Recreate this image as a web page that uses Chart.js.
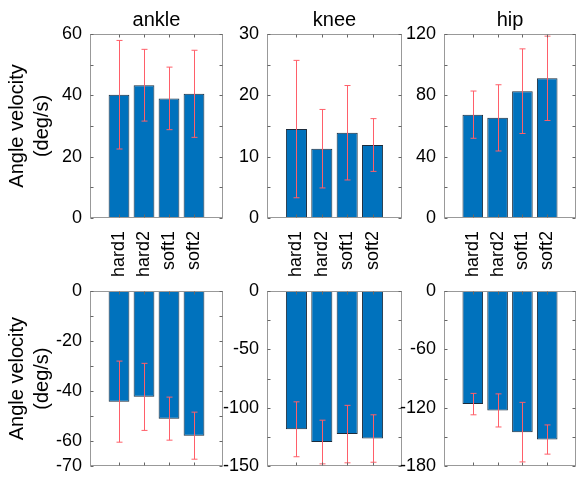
<!DOCTYPE html>
<html>
<head>
<meta charset="utf-8">
<script src="https://cdn.jsdelivr.net/npm/chart.js@4"></script>
<style>
  html, body { margin: 0; padding: 0; background: #fff; }
  #wrap { position: relative; width: 577px; height: 485px; }
  canvas { position: absolute; left: 0; top: 0; }
</style>
</head>
<body>
<div id="wrap">
  <canvas id="c0" width="577" height="485"></canvas>
  <canvas id="c1" width="577" height="485"></canvas>
  <canvas id="c2" width="577" height="485"></canvas>
  <canvas id="c3" width="577" height="485"></canvas>
  <canvas id="c4" width="577" height="485"></canvas>
  <canvas id="c5" width="577" height="485"></canvas>
</div>
<script>
// data
const trials = ['hard1', 'hard2', 'soft1', 'soft2'];
const joints = ['ankle', 'knee', 'hip'];
const yLabel = ['Angle velocity', '(deg/s)'];

const ankleUp = [40.2, 43.3, 39.0, 40.5];
const ankleUpErr = [17.7, 11.7, 10.2, 14.2];
const kneeUp = [14.5, 11.3, 13.9, 11.9];
const kneeUpErr = [11.2, 6.4, 7.7, 4.3];
const hipUp = [67.4, 65.3, 82.7, 91.1];
const hipUpErr = [15.4, 21.6, 27.6, 27.5];

const ankleDown = [-44.2, -42.3, -51.0, -57.8];
const ankleDownErr = [16.2, 13.4, 8.6, 9.4];
const kneeDown = [-118.4, -129.3, -122.5, -126.3];
const kneeDownErr = [23.5, 18.7, 24.6, 20.3];
const hipDown = [-116.2, -122.7, -145.0, -152.6];
const hipDownErr = [11.0, 17.0, 30.6, 15.0];

// labelled y ticks, and the step of the tick marks
const ankleUpTicks = [0, 20, 40, 60];
const kneeUpTicks = [0, 10, 20, 30];
const hipUpTicks = [0, 40, 80, 120];
const ankleDownTicks = [0, -20, -40, -60, -70];
const kneeDownTicks = [0, -50, -100, -150];
const hipDownTicks = [0, -60, -120, -180];
const upSteps = [10, 5, 20];
const downSteps = [10, 25, 30];

Chart.defaults.font.family = '"Liberation Sans", Arial, sans-serif';
Chart.defaults.color = '#000';

const W = 577, H = 485;
const cols = [[90, 223], [267, 402], [444, 576]];
const rows = [[34, 218], [291, 474]];

const errorBars = {
  id: 'errorBars',
  afterDatasetsDraw(chart, args, opts) {
    const { ctx } = chart;
    const y = chart.scales.y;
    const meta = chart.getDatasetMeta(0);
    const vals = chart.data.datasets[0].data;
    ctx.save();
    ctx.strokeStyle = 'rgb(255,95,105)';
    ctx.lineWidth = 1;
    ctx.beginPath();
    meta.data.forEach((bar, i) => {
      const v = vals[i].y, e = opts.err[i];
      const px = Math.round(bar.x) + 0.5;
      const y1 = y.getPixelForValue(v + e), y2 = y.getPixelForValue(v - e);
      ctx.moveTo(px, y1); ctx.lineTo(px, y2);
      ctx.moveTo(px - 3, y1); ctx.lineTo(px + 3, y1);
      ctx.moveTo(px - 3, y2); ctx.lineTo(px + 3, y2);
    });
    ctx.stroke();
    ctx.restore();
  }
};

const boxAxes = {
  id: 'boxAxes',
  afterDraw(chart) {
    const { ctx, chartArea: a } = chart;
    const { x, y } = chart.scales;
    const L = Math.round(a.left) + 0.5, R = Math.round(a.right) - 0.5;
    const T = Math.round(a.top) + 0.5, B = Math.round(a.bottom) - 0.5;
    ctx.save();
    ctx.strokeStyle = '#999';
    ctx.lineWidth = 1;
    ctx.strokeRect(L, T, R - L, B - T);
    ctx.strokeStyle = '#666';
    ctx.beginPath();
    y.ticks.forEach(t => {
      const py = Math.round(y.getPixelForValue(t.value)) + 0.5;
      ctx.moveTo(L, py); ctx.lineTo(L + 3, py);
      ctx.moveTo(R, py); ctx.lineTo(R - 3, py);
    });
    x.ticks.forEach(t => {
      const px = Math.round(x.getPixelForValue(t.value)) + 0.5;
      ctx.moveTo(px, T); ctx.lineTo(px, T + 3);
      ctx.moveTo(px, B); ctx.lineTo(px, B - 3);
    });
    ctx.stroke();
    ctx.restore();
  }
};

function panel(id, col, row, values, errs, ticks, step) {
  const [left, right] = cols[col];
  const [top, bottom] = rows[row];
  const lo = Math.min(...ticks), hi = Math.max(...ticks);
  new Chart(document.getElementById(id), {
    type: 'bar',
    data: {
      datasets: [{
        data: trials.map((t, i) => ({ x: i + 1, y: values[i] })),
        backgroundColor: '#0072BD',
        borderColor: '#1c2c3c',
        borderWidth: 1,
        borderSkipped: false,
        barPercentage: 0.83,
        categoryPercentage: 1
      }]
    },
    options: {
      responsive: false,
      animation: false,
      events: [],
      layout: {
        padding: { left: 0, right: W - right, top: row === 0 ? 0 : top, bottom: 0 }
      },
      scales: {
        x: {
          type: 'linear',
          offset: false,
          min: -0.16,
          max: 5.16,
          grid: { display: false, drawTicks: false, offset: false },
          border: { display: false },
          afterBuildTicks: s => { s.ticks = trials.map((t, i) => ({ value: i + 1 })); },
          afterFit: s => { s.height = H - bottom; s.paddingLeft = 0; s.paddingRight = 0; },
          ticks: {
            display: row === 0,
            autoSkip: false,
            minRotation: 90,
            maxRotation: 90,
            padding: 13,
            font: { size: 18 },
            callback: v => trials[v - 1]
          }
        },
        y: {
          min: lo,
          max: hi,
          grid: { display: false, drawTicks: false },
          border: { display: false },
          afterFit: s => { s.width = left; },
          title: {
            display: col === 0,
            text: yLabel,
            font: { size: 20, lineHeight: 1.27 },
            padding: { top: 4.8, bottom: 0 }
          },
          ticks: {
            stepSize: step,
            autoSkip: false,
            padding: 8,
            font: { size: 18 },
            callback: v => ticks.includes(v) ? String(v) : ''
          }
        }
      },
      plugins: {
        legend: { display: false },
        tooltip: { enabled: false },
        title: {
          display: row === 0,
          text: joints[col],
          fullSize: false,
          font: { size: 20, weight: 'normal', lineHeight: 1.2 },
          padding: { top: 8, bottom: 2 }
        },
        errorBars: { err: errs }
      }
    },
    plugins: [errorBars, boxAxes]
  });
}

panel('c0', 0, 0, ankleUp, ankleUpErr, ankleUpTicks, upSteps[0]);
panel('c1', 1, 0, kneeUp, kneeUpErr, kneeUpTicks, upSteps[1]);
panel('c2', 2, 0, hipUp, hipUpErr, hipUpTicks, upSteps[2]);
panel('c3', 0, 1, ankleDown, ankleDownErr, ankleDownTicks, downSteps[0]);
panel('c4', 1, 1, kneeDown, kneeDownErr, kneeDownTicks, downSteps[1]);
panel('c5', 2, 1, hipDown, hipDownErr, hipDownTicks, downSteps[2]);
</script>
</body>
</html>
